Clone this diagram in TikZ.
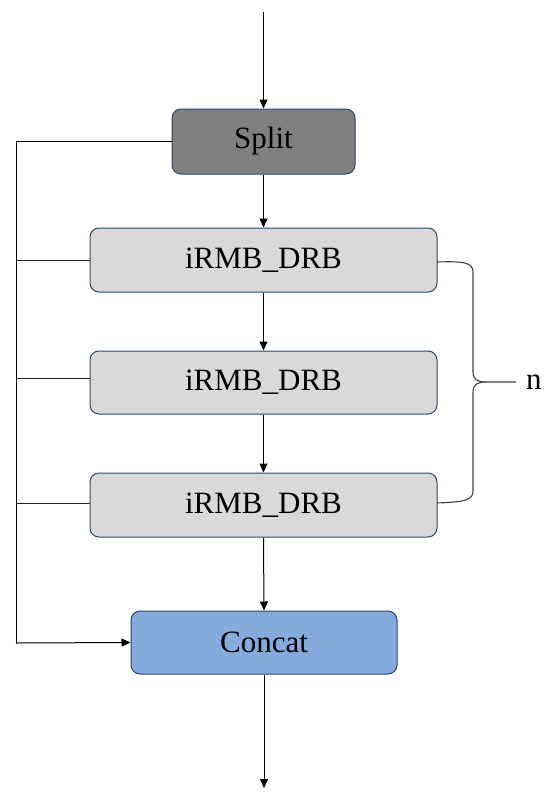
\documentclass[tikz,border=0pt]{standalone}
\usepackage{fontspec}
\setmainfont{Liberation Serif}
\usetikzlibrary{arrows.meta}
\definecolor{splitfill}{HTML}{808080}
\definecolor{blockfill}{HTML}{D9D9D9}
\definecolor{concatfill}{HTML}{84ABDC}
\definecolor{edgeblue}{HTML}{2F4863}
\begin{document}
\begin{tikzpicture}[x=1pt,y=-1pt,
  box/.style={draw=edgeblue,line width=1pt,rounded corners=9pt,inner sep=0pt,font=\fontsize{31}{36}\selectfont},
  conn/.style={line width=1pt,black},
  branch/.style={line width=0.9pt,black!85},
  arr/.style={conn,-{Triangle[length=9pt,width=8pt]}}]
\useasboundingbox (0,0) rectangle (550,803);
\node[box,fill=splitfill,minimum width=183pt,minimum height=65pt] (split) at (263.5,141.5) {Split};
\node[box,fill=blockfill,minimum width=347pt,minimum height=64pt] (b1) at (263.5,260) {iRMB\_DRB};
\node[box,fill=blockfill,minimum width=347pt,minimum height=63pt] (b2) at (263.5,382.5) {iRMB\_DRB};
\node[box,fill=blockfill,minimum width=347pt,minimum height=64pt] (b3) at (263.5,505) {iRMB\_DRB};
\node[box,fill=concatfill,minimum width=266pt,minimum height=63pt] (concat) at (264,642.5) {Concat};
\node[font=\fontsize{31}{36}\selectfont,anchor=west,inner sep=0pt] (n) at (526,382) {n};
\coordinate (top) at (263.5,12);
\coordinate (bot) at (264,788);
\coordinate (lt) at (16,141.5);
\coordinate (lb) at (16,643);
\coordinate (l1) at (16,260);
\coordinate (l2) at (16,378);
\coordinate (l3) at (16,503);
\draw[arr] (top) -- (split.north);
\draw[arr] (split.south) -- (b1.north);
\draw[arr] (b1.south) -- (b2.north);
\draw[arr] (b2.south) -- (b3.north);
\draw[arr] (b3.south) -- (concat.north);
\draw[arr] (concat.south) -- (bot);
\draw[conn] (split.west) -- (lt) -- (lb);
\draw[arr] (lb) -- (concat.west);
\draw[branch] (l1) -- (b1.west |- l1);
\draw[branch] (l2) -- (b2.west |- l2);
\draw[branch] (l3) -- (b3.west |- l3);
\coordinate (bt) at (437,262);
\coordinate (bb) at (437,503);
\draw[line width=1.1pt,black!75] (bt) .. controls (465,261) and (473,263) .. (473,272) -- (473,372)
  .. controls (473,380) and (478,382) .. (486,382) -- (516,382);
\draw[line width=1.1pt,black!75] (486,382) .. controls (478,382) and (473,384) .. (473,392) -- (473,491)
  .. controls (473,500) and (465,502) .. (bb);
\end{tikzpicture}
\end{document}
